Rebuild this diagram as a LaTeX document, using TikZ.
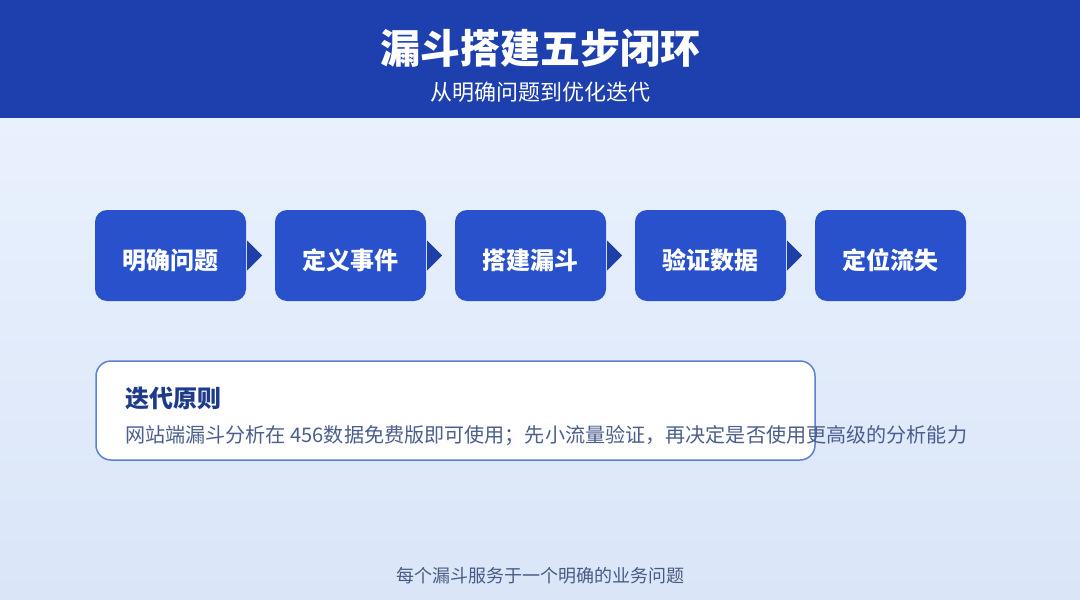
\documentclass[tikz,border=0pt]{standalone}
\usepackage{fontspec}
\setmainfont{Noto Sans CJK SC}
\usetikzlibrary{calc}
\definecolor{headbg}{HTML}{1E40AF}
\definecolor{boxbg}{HTML}{2851CB}
\definecolor{tri}{HTML}{1E3FA8}
\definecolor{navy}{HTML}{1E3A8A}
\definecolor{bodytxt}{HTML}{4B5E8C}
\definecolor{bordc}{HTML}{5A82D2}
\definecolor{foottxt}{HTML}{4A5A85}
\definecolor{bgtop}{HTML}{E9F1FD}
\definecolor{bgbot}{HTML}{DAE5F8}
\tikzset{
  stepbox/.style={fill=boxbg, rounded corners=12pt, minimum width=151pt, minimum height=91pt, inner sep=0pt},
  steplabel/.style={text=white, font=\fontsize{24}{27}\selectfont\bfseries, inner sep=0pt},
  chevron/.style={fill=tri, draw=none},
  notebox/.style={fill=white, draw=bordc, line width=1.5pt, rounded corners=15pt, minimum width=719pt, minimum height=99pt, inner sep=0pt},
}
\begin{document}
\begin{tikzpicture}[x=1pt,y=-1pt]
\useasboundingbox (0,0) rectangle (1080,600);
\shade[top color=bgtop, bottom color=bgbot] (0,118) rectangle (1080,600);
\fill[headbg] (0,0) rectangle (1080,118);
\node[text=white, font=\fontsize{40}{44}\selectfont\bfseries, inner sep=0pt] (title) at (540,48) {漏斗搭建五步闭环};
\node[text=white, font=\fontsize{22}{26}\selectfont, inner sep=0pt] (sub) at (540,92) {从明确问题到优化迭代};
% step boxes
\foreach \i/\t in {1/明确问题,2/定义事件,3/搭建漏斗,4/验证数据,5/定位流失}{
  \node[stepbox] (b\i) at ({95+75.5+180*(\i-1)},255.5) {};
  \node[steplabel] (l\i) at ({95+75.5+180*(\i-1)},260.5) {\t};
}
\foreach \i/\j in {1/2,2/3,3/4,4/5}{
  \fill[chevron] ($(b\i.east)+(1,-15)$) -- ($(b\i.east)+(16,0)$) -- ($(b\i.east)+(1,15)$) -- cycle;
}
% principle box
\node[notebox] (note) at (455.5,410.5) {};
\node[anchor=west, text=navy, font=\fontsize{24}{27}\selectfont\bfseries, inner sep=0pt] (nt) at (125,398) {迭代原则};
\node[anchor=west, text=bodytxt, font=\fontsize{20.1}{23}\selectfont, inner sep=0pt] (nb) at (125,436) {网站端漏斗分析在 456数据免费版即可使用；先小流量验证，再决定是否使用更高级的分析能力};
\node[text=foottxt, font=\fontsize{18}{21}\selectfont, inner sep=0pt] (foot) at (540,576) {每个漏斗服务于一个明确的业务问题};
\end{tikzpicture}
\end{document}
